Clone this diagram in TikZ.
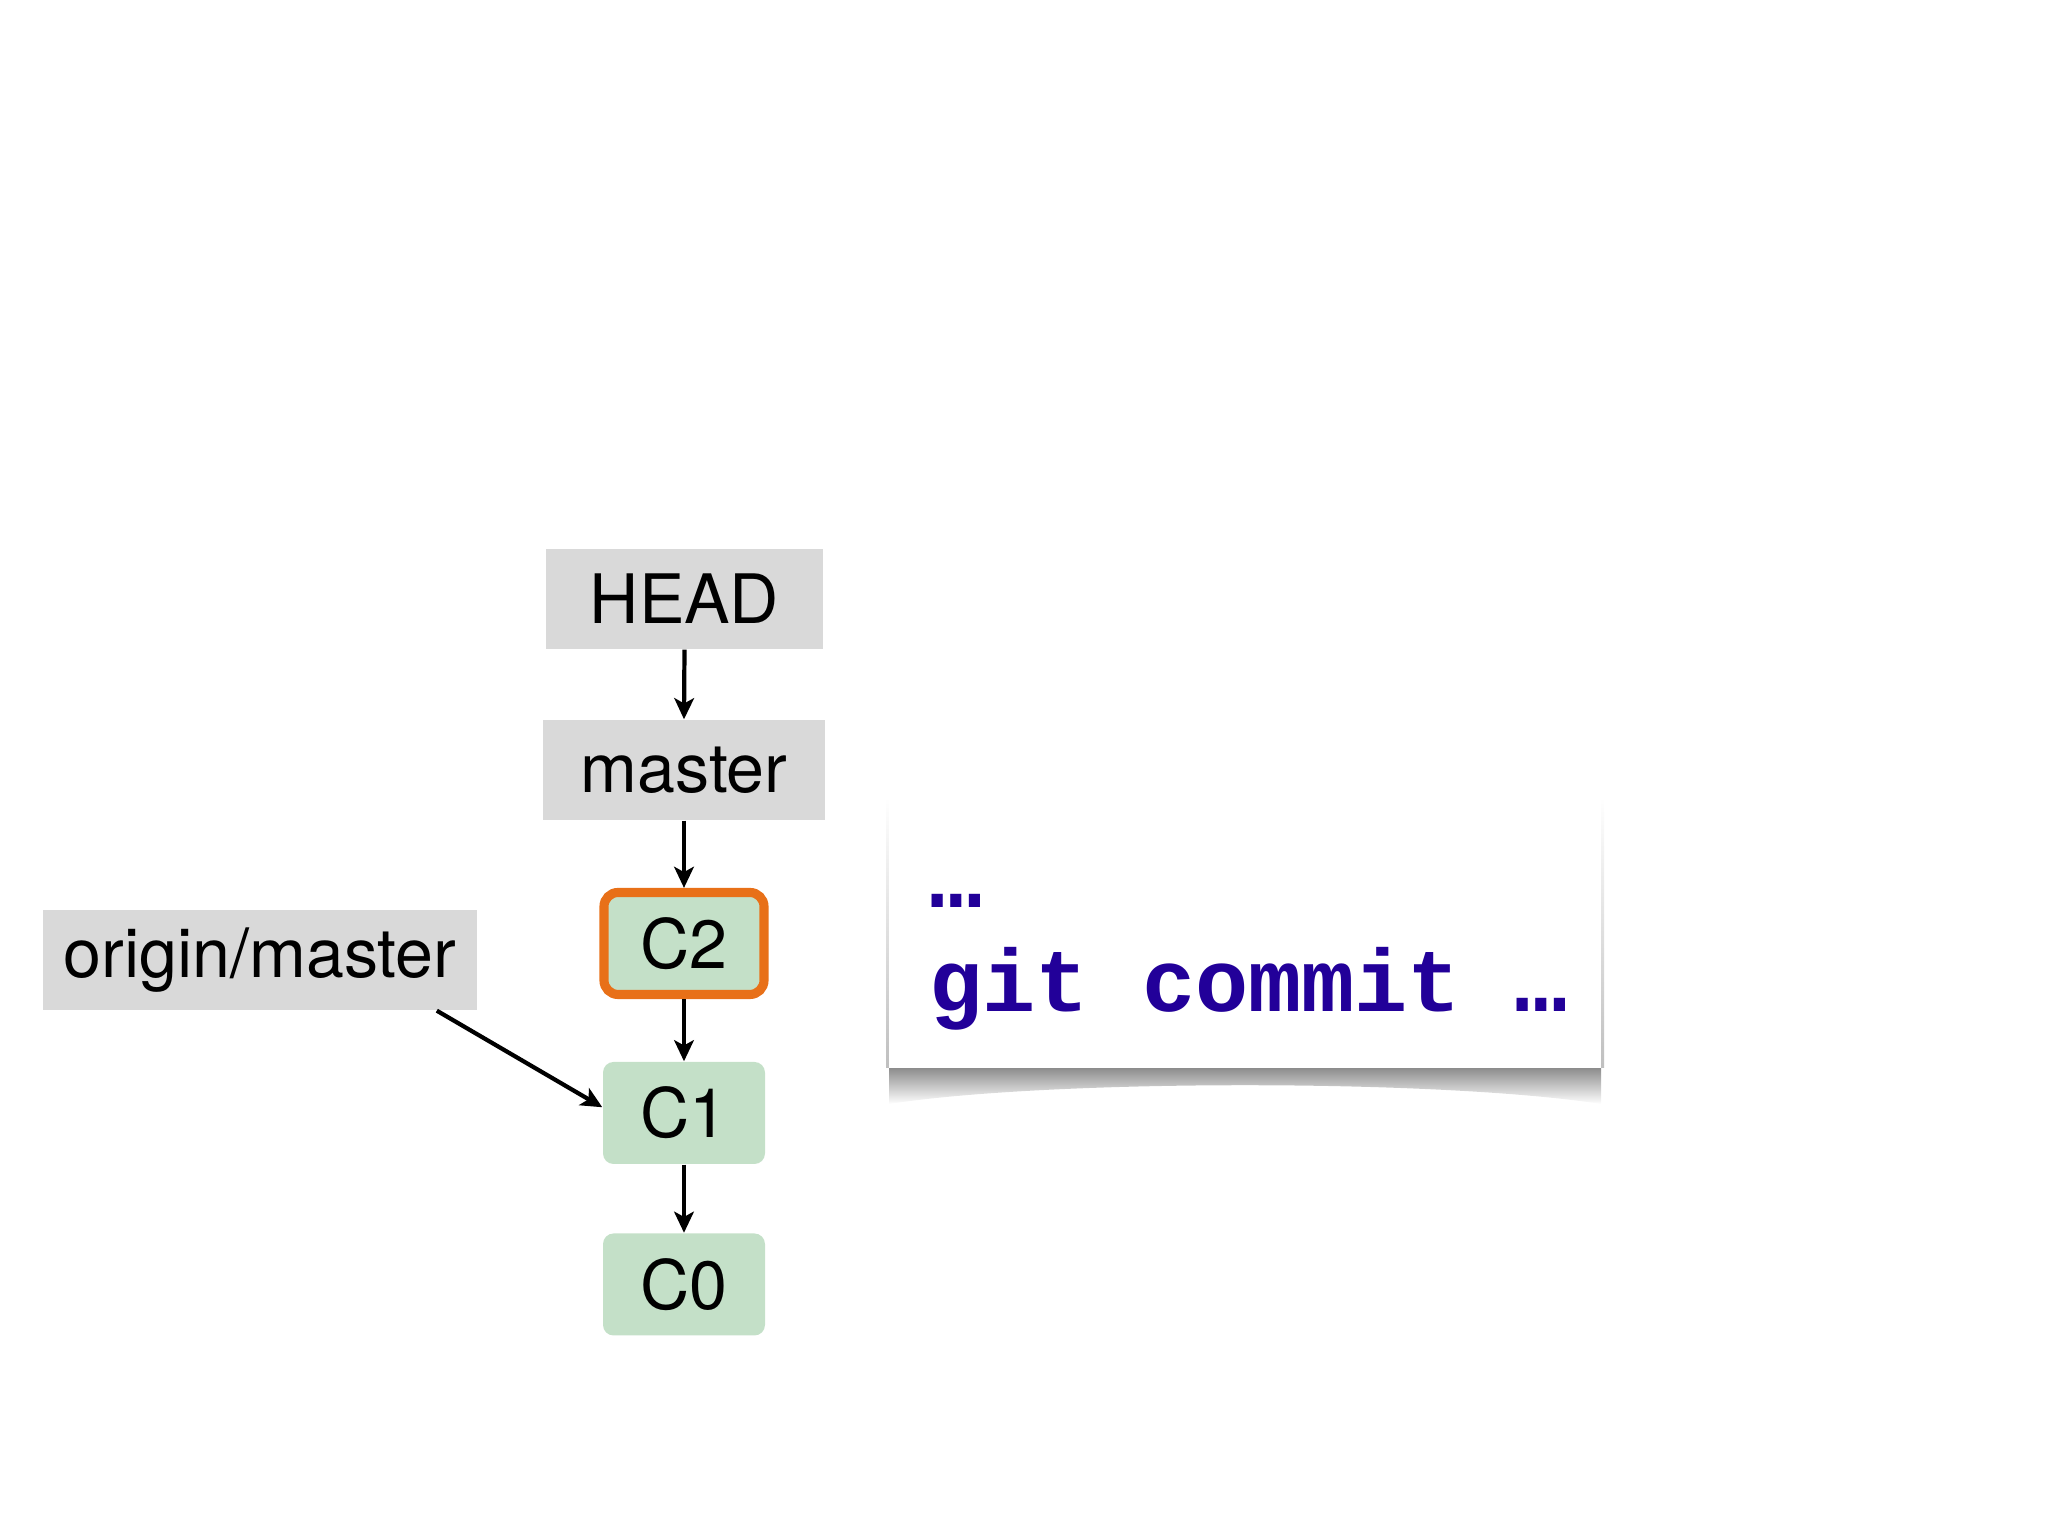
\documentclass[tikz,border=0pt]{standalone}
\usepackage{fontspec}
\setmainfont{TeX Gyre Heros}
\setmonofont{Liberation Mono}
\usepackage{tikz}
\usetikzlibrary{arrows.meta, positioning}
\usepackage{xcolor}
\definecolor{refgray}{RGB}{217,217,217}
\definecolor{commitgreen}{RGB}{196,224,200}
\definecolor{headorange}{RGB}{232,112,24}
\definecolor{codeblue}{RGB}{34,0,153}

\begin{document}
\begin{tikzpicture}[
    ref/.style={fill=refgray, inner sep=0pt, minimum height=1.0cm,
                font=\fontsize{19.4}{23}\selectfont},
    commit/.style={fill=commitgreen, rounded corners=3pt, inner sep=0pt,
                   minimum width=1.62cm, minimum height=1.02cm,
                   font=\fontsize{19.4}{23}\selectfont},
    current/.style={commit, draw=headorange, line width=2.6pt,
                    rounded corners=4pt, minimum width=1.6cm},
    code/.style={anchor=base west, inner sep=0pt, text=codeblue,
                 font=\fontsize{25.2}{30}\selectfont\ttfamily\bfseries},
    arr/.style={-{Stealth[length=6pt, width=5.6pt, inset=1.5pt]},
                line width=1.2pt, black}
]
\useasboundingbox (0,0) rectangle (20.48,15.36);

% Références
\node[ref, minimum width=2.77cm] (head)   at (6.845, 9.37) {HEAD};
\node[ref, minimum width=2.82cm] (master) at (6.84, 7.66)  {master};
\node[ref, minimum width=4.34cm] (origin) at (2.60, 5.76)  {origin/master};

% Commits
\node[current] (c2) at (6.84, 5.925) {C2};
\node[commit]  (c1) at (6.84, 4.23)  {C1};
\node[commit]  (c0) at (6.84, 2.515) {C0};

% Ombre du panneau
\shade[top color=black!45, bottom color=white]
    (8.89,4.68) -- (8.89,4.32) .. controls (10.5,4.57) and (14.4,4.57) ..
    (16.01,4.32) -- (16.01,4.68) -- cycle;
\shade[top color=white, bottom color=black!25] (8.86,4.68) rectangle (8.89,7.39);
\shade[top color=white, bottom color=black!25] (16.01,4.68) rectangle (16.04,7.39);

% Panneau de commande
\node[fill=white, inner sep=0pt, minimum width=7.12cm, minimum height=2.71cm]
    (panel) at (12.45, 6.035) {};
\node[code] (dots) at (9.29, 6.28) {…};
\node[code] (cmd)  at (9.29, 5.24) {git commit …};

% Flèches
\foreach \a/\b in {head/master, master/c2, c2/c1, c1/c0}
    \draw[arr] (\a.south) -- (\b.north);
\draw[arr] (origin.-16) -- (c1.176);

\end{tikzpicture}
\end{document}
